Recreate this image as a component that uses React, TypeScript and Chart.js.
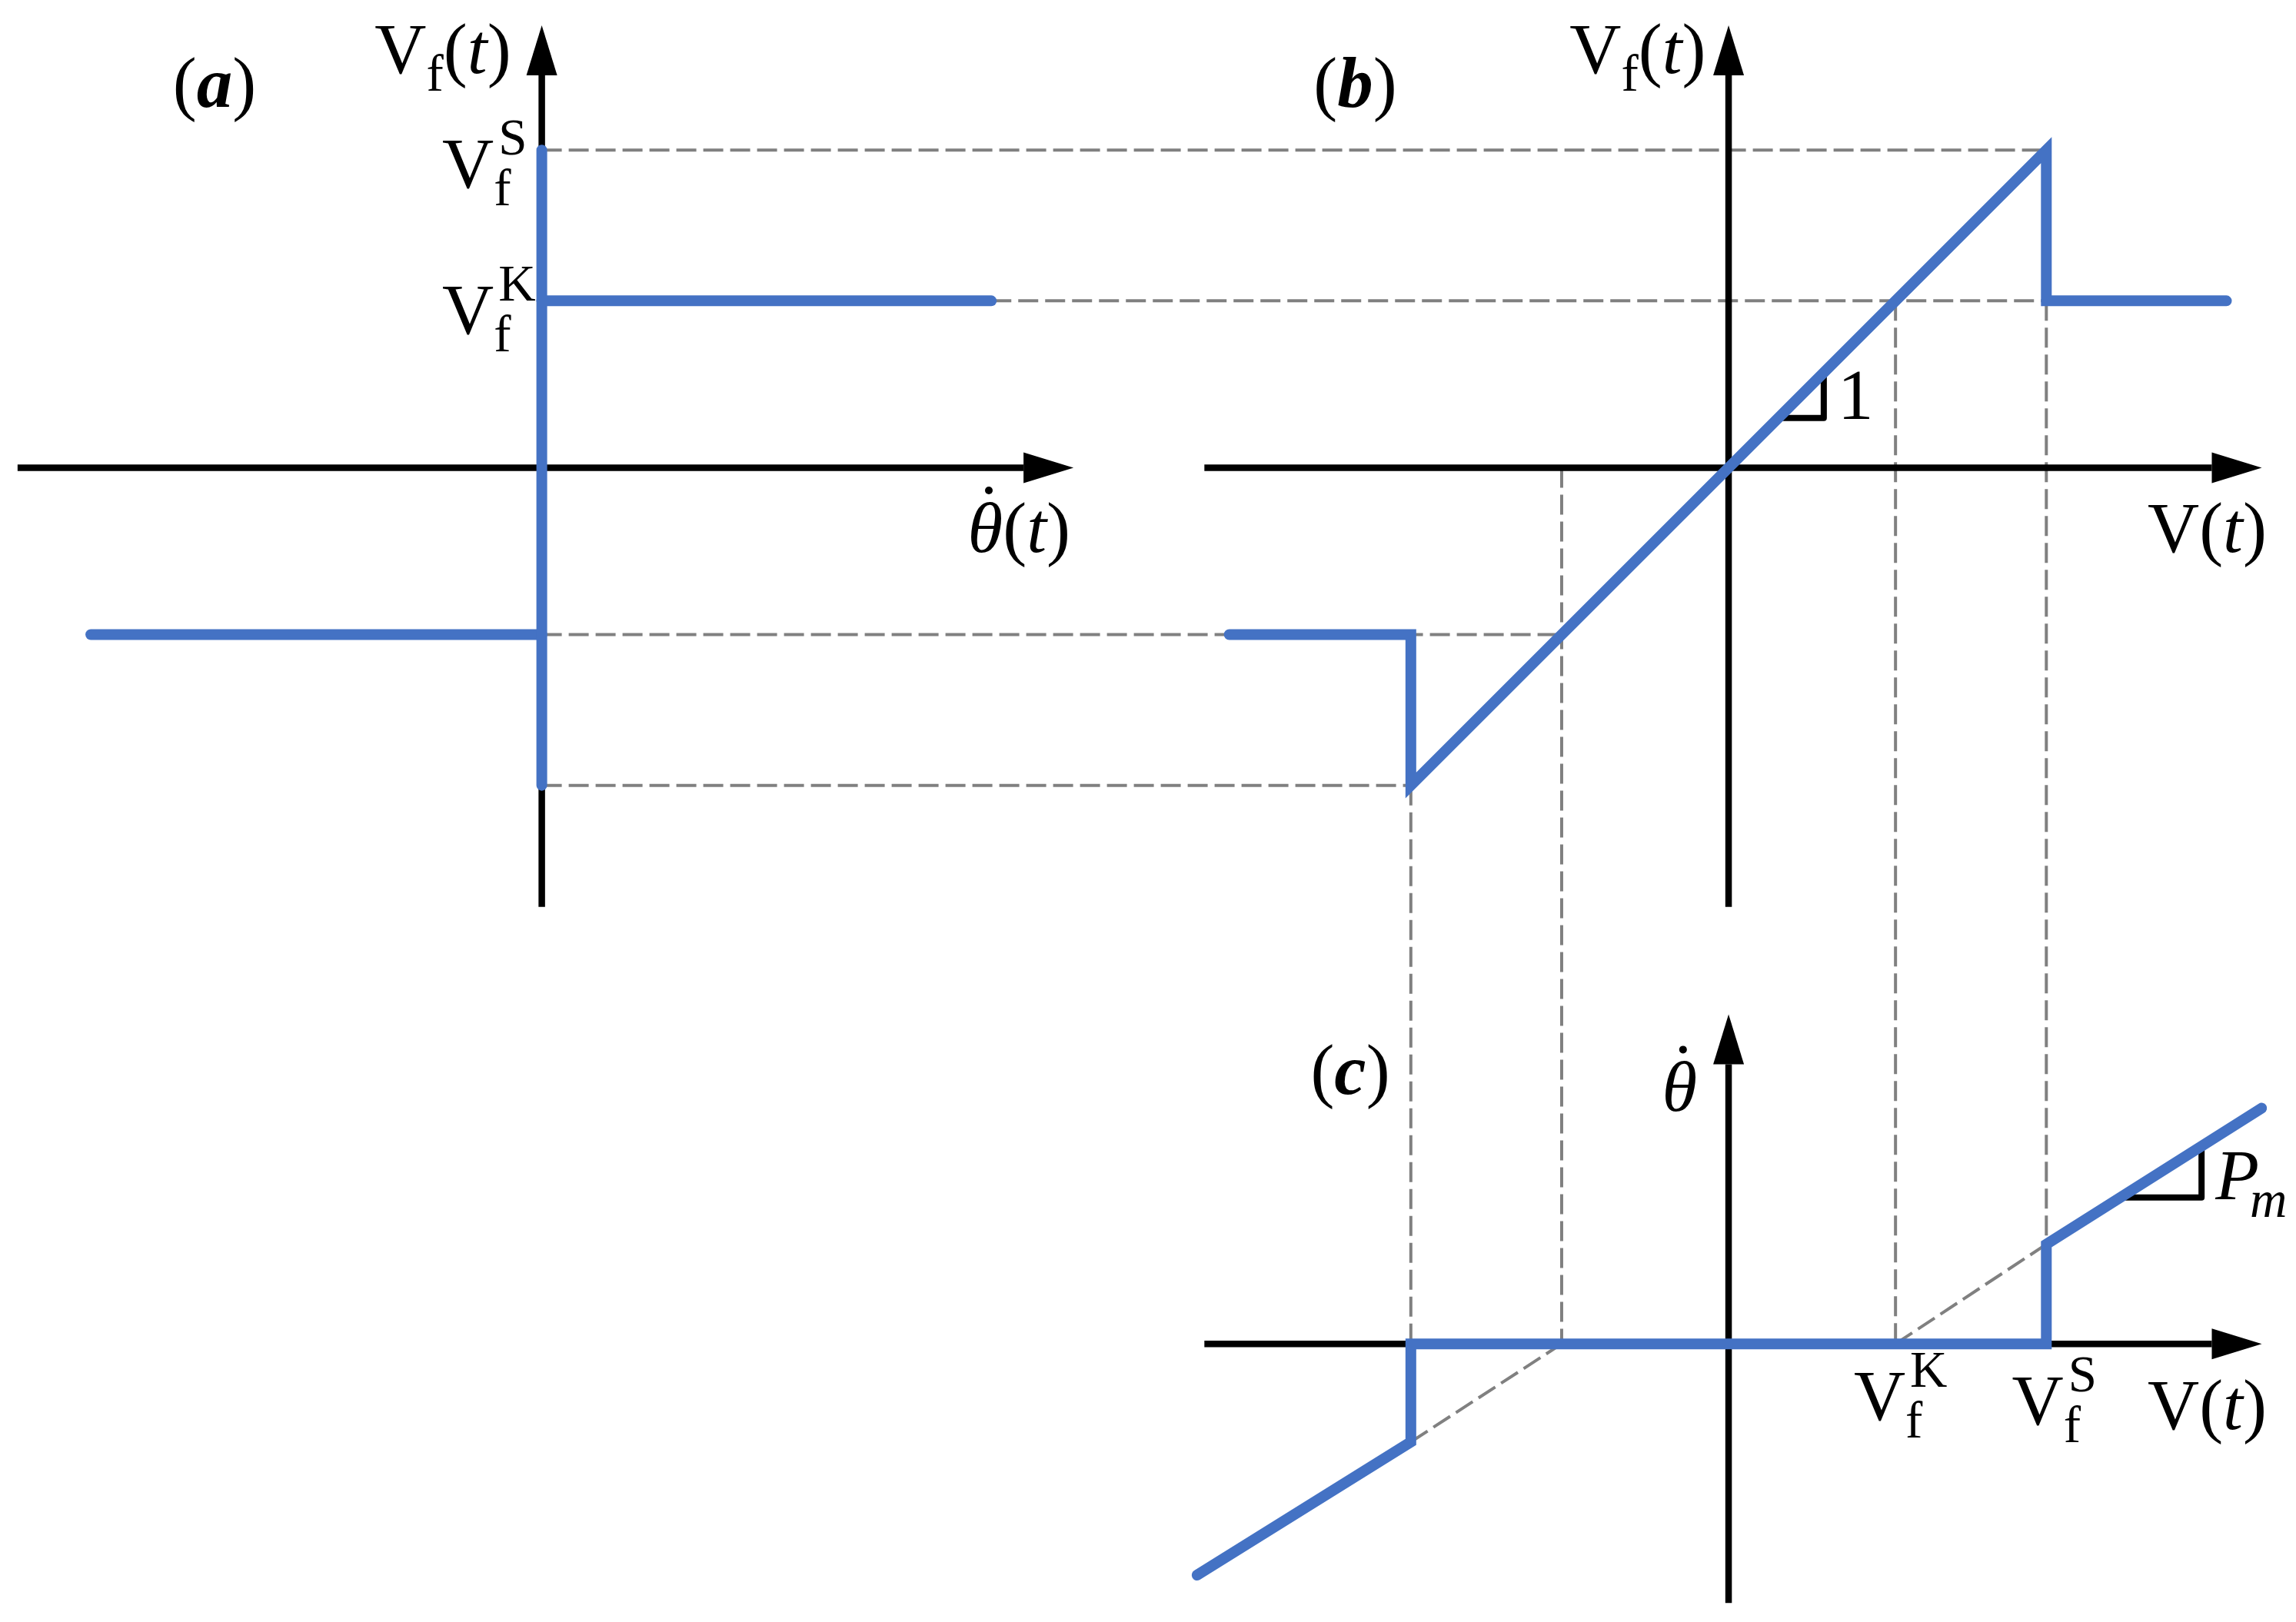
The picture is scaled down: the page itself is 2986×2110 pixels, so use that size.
import React, { useEffect, useRef } from "react";
import { Chart, registerables } from "chart.js";

Chart.register(...registerables);

// ---------- characteristic values (panel-local units) ----------
const VF_S = 217; // static friction level V_f^S
const VF_K = 114; // kinetic friction level V_f^K

// panel (a): friction force vs velocity theta-dot
const A_VERTICAL = [[0, VF_S], [0, -VF_S]];
const A_UPPER = [[0, VF_K], [307, VF_K]];
const A_LOWER = [[-308, -VF_K], [0, -VF_K]];

// panel (b): friction force vs applied force V
const B_V = [-341, -VF_S, -VF_S, VF_S, VF_S, 340];
const B_VF = [-VF_K, -VF_K, -VF_S, VF_S, VF_K, VF_K];

// panel (c): velocity vs applied force V
const C_V = [-363, -VF_S, -VF_S, VF_S, VF_S, 364];
const C_THETA = [-158, -67, 0, 0, 68, 161];

// slope markers
const SLOPE1_B = [[34, 34], [65, 34], [65, 65]];
const SLOPE_PM_C = [[270, 100], [323, 100], [323, 134]];

// axes (panel-local, end = base of arrow head)
const AXES: [string, number[][]][] = [
  ["a", [[-358, 0], [329, 0]]],
  ["a", [[0, -300], [0, 268]]],
  ["b", [[-358, 0], [330, 0]]],
  ["b", [[0, -300], [0, 268]]],
  ["c", [[-358, 0], [330, 0]]],
  ["c", [[0, -177], [0, 191]]],
];

// dashed guides between panels: [panel, x, y] -> [panel, x, y]
const GUIDES: [string, number, number][][] = [
  [["a", 0, VF_S], ["b", VF_S, VF_S]],
  [["a", 307, VF_K], ["b", VF_S, VF_K]],
  [["a", 0, -VF_K], ["b", -VF_K, -VF_K]],
  [["a", 0, -VF_S], ["b", -VF_S, -VF_S]],
  [["b", -VF_S, -VF_S], ["c", -VF_S, -67]],
  [["b", -VF_K, 0], ["c", -VF_K, 0]],
  [["b", VF_K, VF_K], ["c", VF_K, 0]],
  [["b", VF_S, VF_K], ["c", VF_S, 0]],
  [["c", -VF_S, -67], ["c", -VF_K, 0]],
  [["c", VF_K, 0], ["c", VF_S, 68]],
];

// ---------- layout ----------
const FRAME_W = 1568;
const FRAME_H = 1108;
const ORIGINS: Record<string, [number, number]> = {
  a: [370, 319.5],
  b: [1180.5, 319.5],
  c: [1180.5, 918],
};

const BLUE = "#4472C4";
const GRAY = "#808080";
const FONT = '"Liberation Serif", "Times New Roman", serif';
const MAIN = 93;
const SMALL = 67;
const SUB_SHIFT = 23;
const SUP_SHIFT = 43;

type Seg = { t: string; it?: boolean; bold?: boolean; sub?: boolean; sup?: boolean; stack?: boolean; dot?: boolean; dx?: number };

const V_F_T: Seg[] = [{ t: "V" }, { t: "f", sub: true }, { t: "(" }, { t: "t", it: true }, { t: ")" }];
const V_T: Seg[] = [{ t: "V" }, { t: "(" }, { t: "t", it: true }, { t: ")" }];
const VFS: Seg[] = [{ t: "V" }, { t: "f", sub: true }, { t: "S", sup: true, stack: true }];
const VFK: Seg[] = [{ t: "V" }, { t: "f", sub: true }, { t: "K", sup: true, stack: true }];
const THETA_T: Seg[] = [{ t: "θ", it: true, dot: true }, { t: "(" }, { t: "t", it: true }, { t: ")" }];
const THETA: Seg[] = [{ t: "θ", it: true, dot: true }];
const PM_LBL: Seg[] = [{ t: "P", it: true }, { t: "m", it: true, sub: true, dx: -12 }];
const ONE: Seg[] = [{ t: "1" }];
const panelTag = (ch: string): Seg[] => [{ t: "(" }, { t: ch, it: true, bold: true }, { t: ")" }];

const LABELS: { segs: Seg[]; x: number; y: number; align: "left" | "right" }[] = [
  { segs: V_F_T, x: 349, y: 50, align: "right" },
  { segs: V_F_T, x: 1165, y: 50, align: "right" },
  { segs: panelTag("a"), x: 118, y: 73, align: "left" },
  { segs: panelTag("b"), x: 897, y: 73, align: "left" },
  { segs: panelTag("c"), x: 895, y: 747, align: "left" },
  { segs: VFS, x: 302, y: 128, align: "left" },
  { segs: VFK, x: 302, y: 228, align: "left" },
  { segs: THETA_T, x: 731, y: 377, align: "right" },
  { segs: V_T, x: 1548, y: 377, align: "right" },
  { segs: ONE, x: 1255, y: 286, align: "left" },
  { segs: THETA, x: 1135, y: 759, align: "left" },
  { segs: PM_LBL, x: 1513, y: 819, align: "left" },
  { segs: VFK, x: 1266, y: 970, align: "left" },
  { segs: VFS, x: 1374, y: 973, align: "left" },
  { segs: V_T, x: 1548, y: 976, align: "right" },
];

const toFrame = (p: string, pts: number[][]) =>
  pts.map(([x, y]) => ({ x: ORIGINS[p][0] + x, y: ORIGINS[p][1] - y }));

const zip = (xs: number[], ys: number[]) => xs.map((x, i) => [x, ys[i]]);

function segFont(s: Seg) {
  const size = s.sub || s.sup ? SMALL : MAIN;
  return `${s.it ? "italic " : ""}${s.bold ? "bold " : ""}${size}px ${FONT}`;
}

function drawRich(ctx: CanvasRenderingContext2D, segs: Seg[], px: number, py: number, align: string) {
  let x = 0;
  let prevStart = 0;
  let prevEnd = 0;
  const items: { s: Seg; font: string; x: number; w: number; dy: number }[] = [];
  for (const s of segs) {
    const font = segFont(s);
    ctx.font = font;
    const w = ctx.measureText(s.t).width;
    const start = (s.stack ? prevStart + 6 : x) + (s.dx || 0);
    const dy = s.sub ? SUB_SHIFT : s.sup ? -SUP_SHIFT : 0;
    items.push({ s, font, x: start, w, dy });
    const end = start + w;
    x = s.stack ? Math.max(prevEnd, end) : end;
    prevStart = start;
    prevEnd = end;
  }
  const left = align === "right" ? px - x : px;
  ctx.fillStyle = "#000";
  ctx.textBaseline = "alphabetic";
  ctx.textAlign = "left";
  for (const it of items) {
    ctx.font = it.font;
    ctx.fillText(it.s.t, left + it.x, py + it.dy);
    if (it.s.dot) {
      ctx.beginPath();
      ctx.arc(left + it.x + it.w * 0.6, py - 80, 5, 0, Math.PI * 2);
      ctx.fill();
    }
  }
}

const decorPlugin = {
  id: "decor",
  afterDatasetsDraw(chart: any) {
    const ctx: CanvasRenderingContext2D = chart.ctx;
    const xs = chart.scales.x;
    const ys = chart.scales.y;
    ctx.save();
    // arrow heads
    chart.data.datasets.forEach((ds: any) => {
      if (!ds.arrow) return;
      const pts = ds.data;
      const p1 = pts[pts.length - 2];
      const p2 = pts[pts.length - 1];
      const x1 = xs.getPixelForValue(p1.x), y1 = ys.getPixelForValue(p1.y);
      const x2 = xs.getPixelForValue(p2.x), y2 = ys.getPixelForValue(p2.y);
      const len = Math.hypot(x2 - x1, y2 - y1);
      const ux = (x2 - x1) / len, uy = (y2 - y1) / len;
      const L = 65, HW = 20;
      ctx.beginPath();
      ctx.moveTo(x2 + ux * L, y2 + uy * L);
      ctx.lineTo(x2 - uy * HW, y2 + ux * HW);
      ctx.lineTo(x2 + uy * HW, y2 - ux * HW);
      ctx.closePath();
      ctx.fillStyle = "#000";
      ctx.fill();
    });
    // labels
    for (const l of LABELS) {
      drawRich(ctx, l.segs, xs.getPixelForValue(l.x), ys.getPixelForValue(l.y), l.align);
    }
    ctx.restore();
  },
};

export default function App() {
  const ref = useRef<HTMLCanvasElement | null>(null);
  useEffect(() => {
    document.body.style.margin = "0";
    document.body.style.overflow = "hidden";
    const canvas = ref.current;
    if (!canvas) return;

    const base = { showLine: true, pointRadius: 0, pointHoverRadius: 0, fill: false, clip: false as any, tension: 0 };
    const blueDs = (data: any[]) => ({
      ...base,
      data,
      borderColor: BLUE,
      borderWidth: 14,
      borderCapStyle: "round",
      borderJoinStyle: "miter",
      order: 0,
    });

    const datasets: any[] = [
      blueDs(toFrame("a", A_VERTICAL)),
      blueDs(toFrame("a", A_UPPER)),
      blueDs(toFrame("a", A_LOWER)),
      blueDs(toFrame("b", zip(B_V, B_VF))),
      blueDs(toFrame("c", zip(C_V, C_THETA))),
      ...[SLOPE1_B, SLOPE_PM_C].map((pts, i) => ({
        ...base,
        data: toFrame(i === 0 ? "b" : "c", pts),
        borderColor: "#000",
        borderWidth: 8,
        borderCapStyle: "butt",
        borderJoinStyle: "round",
        order: 1,
      })),
      ...AXES.map(([p, pts]) => ({
        ...base,
        data: toFrame(p, pts),
        borderColor: "#000",
        borderWidth: 8.5,
        borderCapStyle: "butt",
        order: 2,
        arrow: true,
      })),
      ...GUIDES.map((g) => ({
        ...base,
        data: g.map(([p, x, y]) => toFrame(p, [[x, y]])[0]),
        borderColor: GRAY,
        borderWidth: 4,
        borderDash: [26, 9],
        order: 3,
      })),
    ];

    const chart = new Chart(canvas, {
      type: "scatter",
      data: { datasets },
      options: {
        responsive: false,
        devicePixelRatio: 1,
        animation: false,
        events: [],
        layout: { padding: 0 },
        scales: {
          x: { type: "linear", display: false, min: 0, max: FRAME_W },
          y: { type: "linear", display: false, min: 0, max: FRAME_H, reverse: true },
        },
        plugins: { legend: { display: false }, tooltip: { enabled: false } },
      } as any,
      plugins: [decorPlugin],
    });
    return () => chart.destroy();
  }, []);

  return (
    <div style={{ position: "fixed", left: 0, top: 0, width: 2986, height: 2110, background: "#fff" }}>
      <canvas ref={ref} width={2986} height={2110} style={{ display: "block" }} />
    </div>
  );
}
